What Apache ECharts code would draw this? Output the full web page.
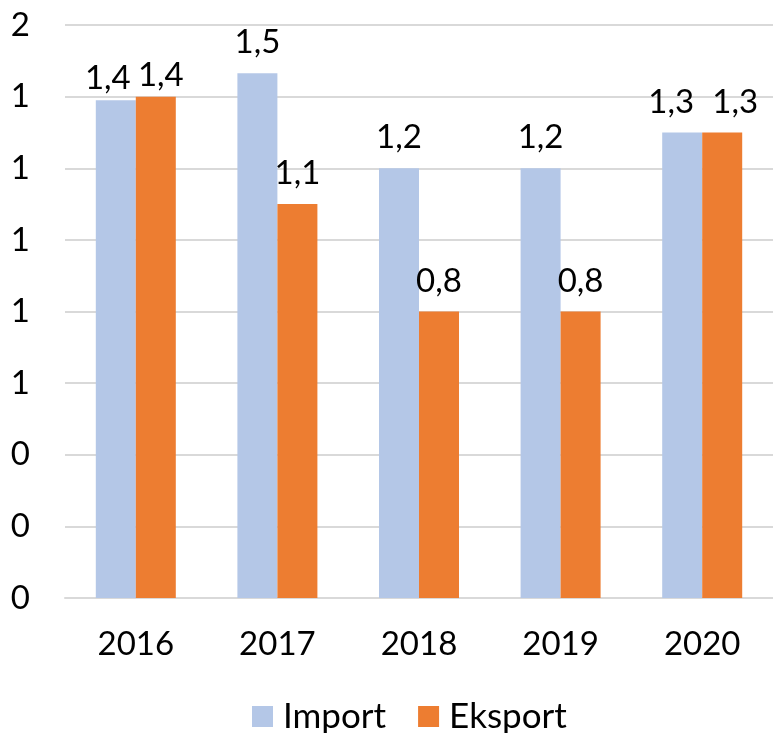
<!DOCTYPE html>
<html>
  <head>
    <meta charset="utf-8">
    <title>Import Eksport</title>
    <script src="https://cdn.jsdelivr.net/npm/echarts@6/dist/echarts.min.js"></script>
    <style>
      body { margin: 0; background: #fff; }
      #main { width: 773px; height: 733px; }
    </style>
  </head>
  <body>
    <div id="main"></div>
    <script type="text/javascript">
      // data
      var years = ['2016', '2017', '2018', '2019', '2020'];
      var importVals = [1.39, 1.465, 1.2, 1.2, 1.3];
      var eksportVals = [1.4, 1.1, 0.8, 0.8, 1.3];

      var font = 'Lato, "Open Sans", sans-serif';
      var fmt = function (p) { return p.value.toFixed(1).replace('.', ','); };

      // labels that sit side by side get pushed apart (like excel does)
      var importShift = { 0: [-8, 9], 4: [-11, 0] };
      var eksportShift = { 0: [5, 9], 4: [13, 0] };
      function withShift(vals, shift) {
        return vals.map(function (v, i) {
          if (shift[i]) return { value: v, label: { offset: shift[i] } };
          return v;
        });
      }
      var lbl = { show: true, position: 'top', distance: 14, fontSize: 33, color: '#000', fontFamily: font, formatter: fmt };

      var myChart = echarts.init(document.getElementById('main'));
      myChart.setOption({
        animation: false,
        grid: { left: 65, right: -5, top: 25, bottom: 135 },
        legend: {
          data: ['Import', 'Eksport'],
          top: 694,
          left: 247,
          itemWidth: 21,
          itemHeight: 21,
          itemGap: 32,
          icon: 'rect',
          textStyle: { fontSize: 35, lineHeight: 30, color: '#000', fontFamily: font, padding: [0, 0, 0, 5] }
        },
        xAxis: {
          type: 'category',
          data: years,
          axisTick: { show: false },
          axisLine: { lineStyle: { color: '#d9d9d9', width: 2 } },
          axisLabel: { fontSize: 33, color: '#000', fontFamily: font, margin: 30 }
        },
        yAxis: {
          type: 'value',
          min: 0,
          max: 1.6,
          interval: 0.2,
          axisLine: { show: false },
          axisTick: { show: false },
          splitLine: { lineStyle: { color: '#d9d9d9', width: 2 } },
          axisLabel: {
            fontSize: 33, color: '#000', fontFamily: font, margin: 35,
            formatter: function (v) { return Math.round(v + 1e-9).toString(); }
          }
        },
        series: [
          {
            name: 'Import', type: 'bar', data: withShift(importVals, importShift),
            barWidth: 40, barGap: '0%',
            itemStyle: { color: '#b4c7e7' },
            label: lbl
          },
          {
            name: 'Eksport', type: 'bar', data: withShift(eksportVals, eksportShift),
            barWidth: 40,
            itemStyle: { color: '#ed7d31' },
            label: lbl
          }
        ]
      });
    </script>
  </body>
</html>
